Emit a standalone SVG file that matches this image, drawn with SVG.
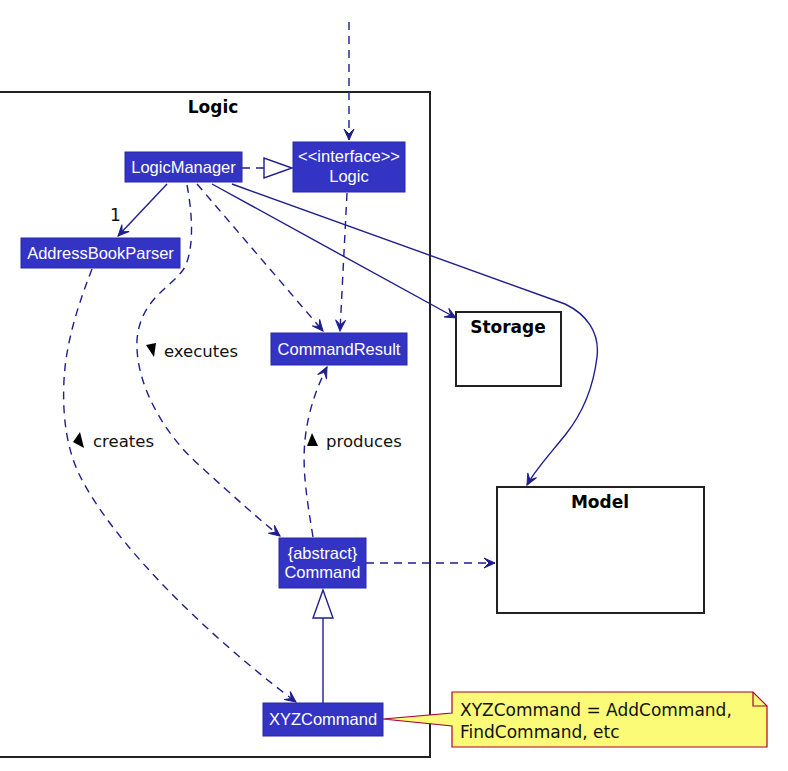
<svg xmlns="http://www.w3.org/2000/svg" width="788" height="771" viewBox="0 0 788 771">
<style>
.cls{fill:#3333C4;stroke:#2828A8;stroke-width:1}
.ct{fill:#FFFFFF;font-family:"Liberation Sans",Arial,sans-serif;font-size:16.5px;text-anchor:middle}
.pkg{fill:none;stroke:#222222;stroke-width:2}
.pt{fill:#000000;font-family:"DejaVu Sans",sans-serif;font-size:17px;font-weight:bold;text-anchor:middle}
.lbl{fill:#111111;font-family:"DejaVu Sans",sans-serif;font-size:16.5px}
.ln{fill:none;stroke:#1E1E8E;stroke-width:1.4}
.dash{stroke-dasharray:8,6}
.hd{fill:#FFFFFF;stroke:#1E1E8E;stroke-width:1.4}
</style>
<defs>
<marker id="arr" viewBox="-12 -7 14 14" refX="0" refY="0" markerWidth="14" markerHeight="14" markerUnits="userSpaceOnUse" orient="auto">
<path d="M0,0 L-11,-5 L-6,0 L-11,5 Z" fill="#1E1E8E" stroke="#1E1E8E" stroke-width="1"/>
</marker>
</defs>
<rect width="788" height="771" fill="#FFFFFF"/>
<g id="Logic-package">
<rect class="pkg" x="-2" y="92" width="432" height="665"/>
<text class="pt" x="213" y="113">Logic</text>
</g>
<g id="Storage">
<rect class="pkg" x="456" y="312" width="105" height="74"/>
<text class="pt" x="508" y="333">Storage</text>
</g>
<g id="Model">
<rect class="pkg" x="497" y="487" width="207" height="126"/>
<text class="pt" x="600" y="508">Model</text>
</g>
<g id="connectors">
<path class="ln dash" d="M349,22 L349,140" marker-end="url(#arr)"/>
<path class="ln dash" d="M242,168 L264,168"/>
<polygon class="hd" points="264,158 264,178 292,168"/>
<path class="ln" d="M167,184 L118,236" marker-end="url(#arr)"/>
<path class="ln dash" d="M347,193 L340,331" marker-end="url(#arr)"/>
<path class="ln dash" d="M197,184 L323,331" marker-end="url(#arr)"/>
<path class="ln" d="M212,184 L456,318" marker-end="url(#arr)"/>
<path class="ln" d="M232,184 L565,304 C586,314 600,332 597,357 C594,382 585,410 566,434 C550,454 535,470 527,485" marker-end="url(#arr)"/>
<path class="ln dash" d="M187,185 C194,222 193,255 183,270 C170,288 140,300 137,340 C135,385 165,435 200,466 C232,495 262,522 280,536" marker-end="url(#arr)"/>
<path class="ln dash" d="M92,269 C80,300 66,340 64,380 C62,420 68,452 80,476 C112,540 200,630 296,702" marker-end="url(#arr)"/>
<path class="ln dash" d="M313,537 C307,500 302,470 305,440 C308,410 318,385 327,367" marker-end="url(#arr)"/>
<path class="ln dash" d="M366,563 L495,563" marker-end="url(#arr)"/>
<path class="ln" d="M323,618 L323,703"/>
<polygon class="hd" points="323,590 313,618 333,618"/>
</g>
<g id="labels">
<text class="lbl" x="110" y="221" style="font-size:17px">1</text>
<polygon points="146,345 156,343 154,357" fill="#000"/>
<text class="lbl" x="164" y="357">executes</text>
<polygon points="80,432 73,442 84,448" fill="#000"/>
<text class="lbl" x="93" y="447">creates</text>
<polygon points="312,433 307,446 318,446" fill="#000"/>
<text class="lbl" x="326" y="447">produces</text>
</g>
<g id="LogicManager">
<rect class="cls" x="125" y="152" width="117" height="30"/>
<text class="ct" x="183.5" y="173">LogicManager</text>
</g>
<g id="LogicInterface">
<rect class="cls" x="293" y="142" width="112" height="50"/>
<text class="ct" x="349" y="162">&lt;&lt;interface&gt;&gt;</text>
<text class="ct" x="349" y="182">Logic</text>
</g>
<g id="AddressBookParser">
<rect class="cls" x="21" y="238" width="159" height="30"/>
<text class="ct" x="100.5" y="259">AddressBookParser</text>
</g>
<g id="CommandResult">
<rect class="cls" x="271" y="333" width="136" height="32"/>
<text class="ct" x="339" y="355">CommandResult</text>
</g>
<g id="Command">
<rect class="cls" x="279" y="538" width="87" height="50"/>
<text class="ct" x="322.5" y="559">{abstract}</text>
<text class="ct" x="322.5" y="578">Command</text>
</g>
<g id="XYZCommand">
<rect class="cls" x="263" y="703" width="120" height="33"/>
<text class="ct" x="323" y="725">XYZCommand</text>
</g>
<g id="note">
<path d="M452,692 L753,692 L767,706 L767,747 L452,747 L452,726 L383,719 L452,713 Z" fill="#FBFB77" stroke="#A80036" stroke-width="1.2"/>
<path d="M753,692 L753,706 L767,706" fill="none" stroke="#A80036" stroke-width="1.2"/>
<text class="lbl" x="460" y="716" style="font-size:17px">XYZCommand = AddCommand,</text>
<text class="lbl" x="460" y="738" style="font-size:17px">FindCommand, etc</text>
</g>
</svg>
